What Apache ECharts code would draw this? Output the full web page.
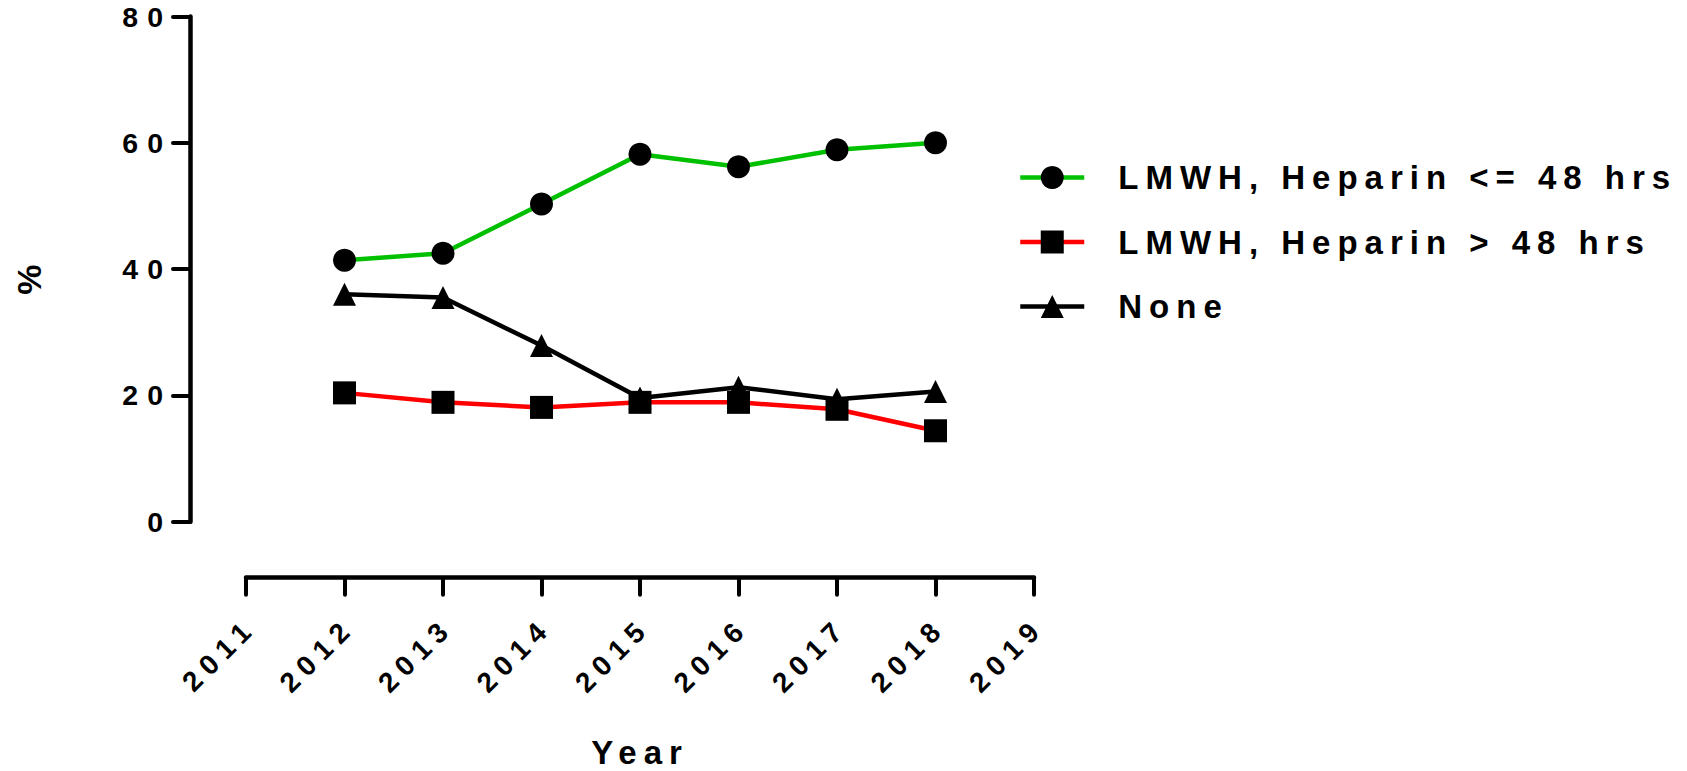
<!DOCTYPE html>
<html><head><meta charset="utf-8">
<script src="https://cdn.jsdelivr.net/npm/echarts@6/dist/echarts.min.js"></script>
<style>
html,body{margin:0;padding:0;background:#fff;}
#chart{width:1687px;height:771px;}
#chart text{letter-spacing:7px;}
#chart text[style*="28.5px"]{letter-spacing:9px;}
#chart text[style*="28px"]{letter-spacing:7.5px;}
</style></head><body><div id="chart"></div>
<script>
const years = [2012, 2013, 2014, 2015, 2016, 2017, 2018];
const seriesNames = ['LMWH, Heparin <= 48 hrs', 'LMWH, Heparin > 48 hrs', 'None'];
const earlyHeparin = [41.4, 42.5, 50.3, 58.2, 56.2, 58.9, 60.0];
const lateHeparin = [20.4, 18.9, 18.1, 18.9, 18.9, 17.8, 14.4];
const noneValues = [36.0, 35.5, 27.9, 19.6, 21.3, 19.4, 20.6];
const xRange = [2011, 2019];
const yTicks = [0, 20, 40, 60, 80];
const xTitle = 'Year';
const yTitle = '%';

const FONT = 'Liberation Sans, Arial, sans-serif';
const pairs = vals => years.map((y, i) => [y, vals[i]]);

const chart = echarts.init(document.getElementById('chart'), null, {renderer: 'svg'});
const axisLineStyle = {show: true, onZero: false, lineStyle: {color: '#000', width: 4.5, cap: 'round'}};
const axisTickStyle = {show: true, length: 17, lineStyle: {color: '#000', width: 4, cap: 'round'}};
function lineSeries(name, vals, color, symbol, z) {
  return {
    name, type: 'line', data: pairs(vals), z,
    symbol, symbolSize: 23,
    lineStyle: {color, width: 4.5},
    itemStyle: {color: '#000', borderWidth: 0},
    emphasis: {disabled: true},
    animation: false
  };
}
chart.setOption({
  animation: false,
  backgroundColor: '#fff',
  grid: {left: 246, right: 653, top: 16.5, bottom: 249.3, containLabel: false, outerBoundsMode: 'none'},
  xAxis: {
    type: 'value', min: xRange[0], max: xRange[1], interval: 1, offset: 56,
    axisLine: axisLineStyle, axisTick: axisTickStyle, splitLine: {show: false},
    name: xTitle, nameLocation: 'middle', nameGap: 158,
    nameTextStyle: {fontSize: 33, fontWeight: 'bold', fontFamily: FONT, color: '#000'},
    axisLabel: {rotate: 45, margin: 50, fontSize: 28, fontWeight: 'bold', fontFamily: FONT, color: '#000',
      padding: [0, -7.5, 0, 0], formatter: v => String(v)}
  },
  yAxis: {
    type: 'value', min: yTicks[0], max: yTicks[yTicks.length - 1], interval: yTicks[1] - yTicks[0], offset: 56,
    axisLine: axisLineStyle, axisTick: axisTickStyle, splitLine: {show: false},
    name: yTitle, nameLocation: 'middle', nameGap: 144, nameRotate: 90,
    nameTextStyle: {fontSize: 34, fontWeight: 'bold', fontFamily: FONT, color: '#000', padding: [0, 14, 0, 0]},
    axisLabel: {margin: 18, fontSize: 28.5, lineHeight: 24, fontWeight: 'bold', fontFamily: FONT, color: '#000'}
  },
  legend: {
    orient: 'vertical', left: 1018, top: 161, padding: 0,
    itemWidth: 64, itemHeight: 28.75, itemGap: 31.5,
    data: seriesNames,
    selectedMode: false,
    lineStyle: {width: 4.5},
    textStyle: {fontSize: 33, fontWeight: 'bold', fontFamily: FONT, color: '#000', padding: [0, 0, 0, 29]}
  },
  series: [
    lineSeries(seriesNames[0], earlyHeparin, '#00c000', 'circle', 2),
    lineSeries(seriesNames[2], noneValues, '#000000', 'triangle', 3),
    lineSeries(seriesNames[1], lateHeparin, '#ff0000', 'rect', 4)
  ]
});
</script></body></html>
